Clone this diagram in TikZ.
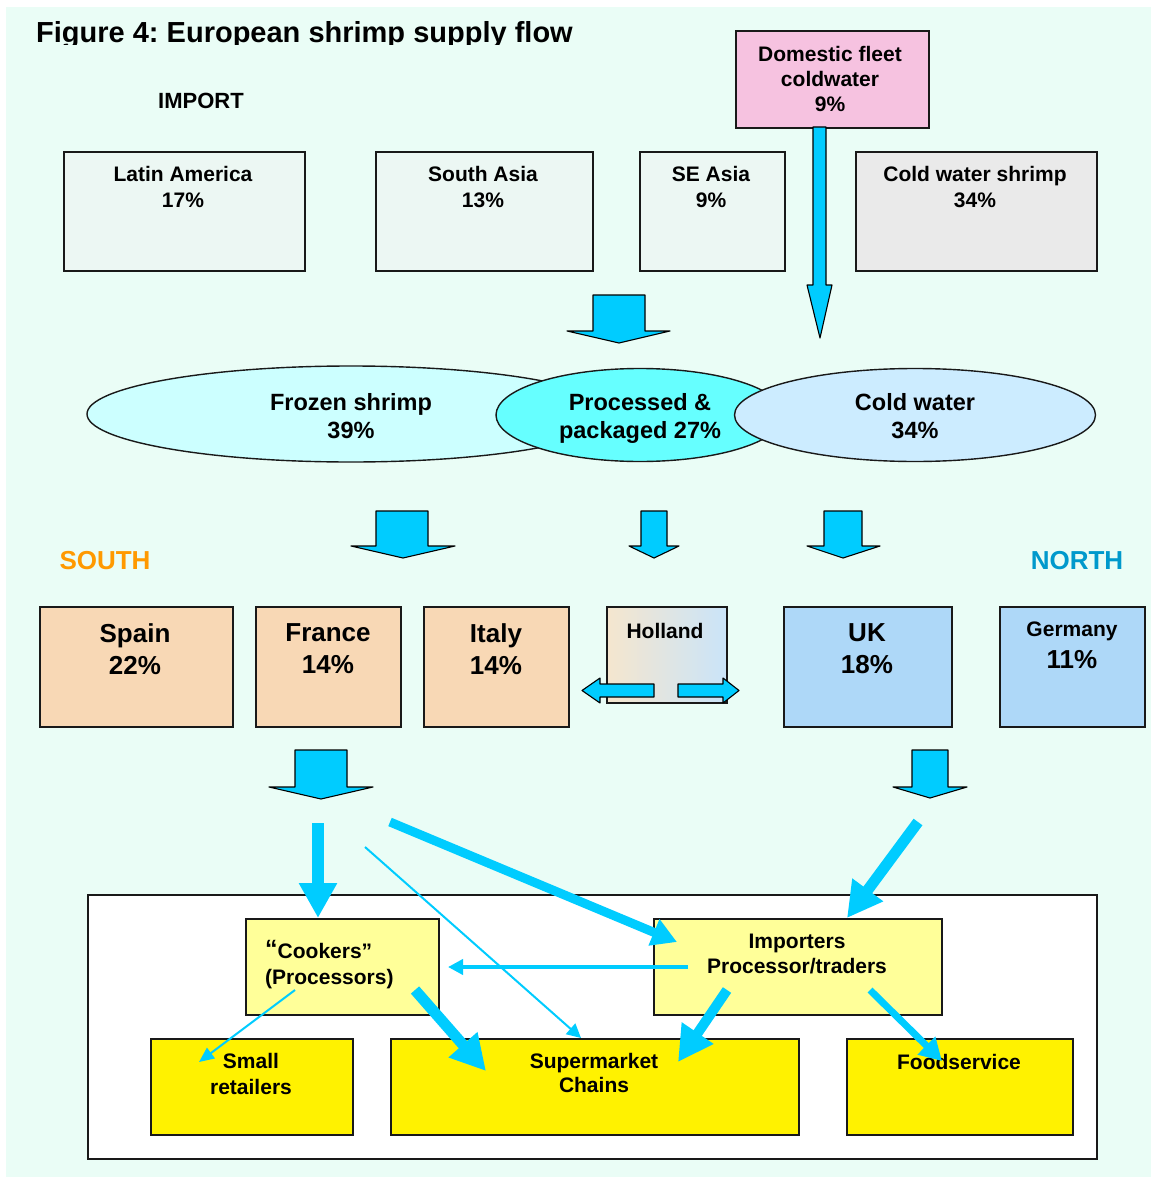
\documentclass[tikz,border=0pt]{standalone}
\usepackage{fontspec}
\setmainfont{Liberation Sans}
\usetikzlibrary{arrows.meta,shapes.geometric}
\frenchspacing
\definecolor{bgmint}{RGB}{234,253,246}
\definecolor{impfill}{RGB}{236,247,243}
\definecolor{greyfill}{RGB}{234,234,234}
\definecolor{pinkfill}{RGB}{246,194,224}
\definecolor{frozenfill}{RGB}{204,255,255}
\definecolor{procfill}{RGB}{102,255,255}
\definecolor{coldfill}{RGB}{204,236,255}
\definecolor{southfill}{RGB}{248,216,181}
\definecolor{northfill}{RGB}{174,216,248}
\definecolor{hollandL}{RGB}{245,230,206}
\definecolor{hollandR}{RGB}{202,228,249}
\definecolor{flow}{RGB}{0,204,255}
\definecolor{southtxt}{RGB}{255,153,0}
\definecolor{northtxt}{RGB}{0,153,204}
\definecolor{lightyellow}{RGB}{255,255,153}
\definecolor{edge}{RGB}{25,25,25}
\begin{document}
\begin{tikzpicture}[x=1pt,y=-1pt,
  box/.style={draw=edge, line width=1.6pt, rectangle, inner sep=0pt, anchor=north west},
  ell/.style={draw=edge, line width=1.4pt, ellipse, inner sep=0pt},
  lbl/.style={font=\fontsize{21}{26}\selectfont\bfseries, align=center, inner sep=0pt, anchor=north},
  biglbl/.style={font=\fontsize{26}{32}\selectfont\bfseries, align=center, inner sep=0pt, anchor=north},
  elllbl/.style={font=\fontsize{23.5}{28}\selectfont\bfseries, align=center, inner sep=0pt, anchor=north},
  blockarrow/.style={fill=flow, draw=black, line width=1.1pt, line join=round},
  flowline/.style={draw=flow, line cap=butt}
]
\useasboundingbox (0,0) rectangle (1151,1177);
\fill[bgmint] (6,7) rectangle (1151,1177);

% title (clipped at bottom as in the reference)
\begin{scope}
  \clip (0,0) rectangle (1151,45);
  \node[anchor=base west, inner sep=0pt, font=\fontsize{29}{32}\selectfont\bfseries] (title) at (36,43) {Figure 4: European shrimp supply flow};
\end{scope}

\node[lbl, font=\fontsize{22}{26}\selectfont\bfseries] (import) at (201,93) {IMPORT};

% import boxes
\node[box, fill=impfill, minimum width=241pt, minimum height=119pt] (la) at (63,151) {};
\node[box, fill=impfill, minimum width=217pt, minimum height=119pt] (sa) at (375,151) {};
\node[box, fill=impfill, minimum width=145pt, minimum height=119pt] (se) at (639,151) {};
\node[box, fill=greyfill, minimum width=241pt, minimum height=119pt] (cws) at (855,151) {};
\node[lbl] (la-t) at (183,166) {Latin America\\17\%};
\node[lbl] (sa-t) at (483,166) {South Asia\\13\%};
\node[lbl] (se-t) at (711,166) {SE Asia\\9\%};
\node[lbl] (cws-t) at (975,166) {Cold water shrimp\\34\%};

% domestic fleet
\node[box, fill=pinkfill, minimum width=193pt, minimum height=97pt] (dom) at (735,30) {};
\node[lbl, font=\fontsize{21}{25}\selectfont\bfseries] (dom-t) at (830,46) {Domestic fleet\\coldwater\\9\%};

% domestic fleet arrow
\filldraw[blockarrow] (813,127) -- (826,127) -- (826,285) -- (832,285) -- (820,338) -- (807,285) -- (813,285) -- cycle;
% top block arrow
\filldraw[blockarrow] (593,295) -- (645,295) -- (645,331) -- (670,331) -- (619,343) -- (567,331) -- (593,331) -- cycle;

% ellipses
\node[ell, fill=frozenfill, minimum width=528pt, minimum height=96pt] (frozen) at (351,414) {};
\node[ell, fill=procfill, minimum width=288pt, minimum height=93pt] (proc) at (640,415) {};
\node[ell, fill=coldfill, minimum width=361pt, minimum height=93pt] (cold) at (915,415) {};
\node[elllbl] (frozen-t) at (351,393) {Frozen shrimp\\39\%};
\node[elllbl] (proc-t) at (640,393) {Processed \&\\packaged 27\%};
\node[elllbl] (cold-t) at (915,393) {Cold water\\34\%};

% middle block arrows
\filldraw[blockarrow] (376,511) -- (428,511) -- (428,546) -- (455,546) -- (403,558) -- (351,546) -- (376,546) -- cycle;
\filldraw[blockarrow] (641,511) -- (667,511) -- (667,546) -- (679,546) -- (654,558) -- (629,546) -- (641,546) -- cycle;
\filldraw[blockarrow] (824,511) -- (862,511) -- (862,546) -- (880,546) -- (843,558) -- (807,546) -- (824,546) -- cycle;

\node[biglbl, text=southtxt] (south) at (105,551) {SOUTH};
\node[biglbl, text=northtxt] (north) at (1077,551) {NORTH};

% countries
\node[box, fill=southfill, minimum width=193pt, minimum height=120pt] (spain) at (39,606) {};
\node[box, fill=southfill, minimum width=145pt, minimum height=120pt] (france) at (255,606) {};
\node[box, fill=southfill, minimum width=145pt, minimum height=120pt] (italy) at (423,606) {};
\node[box, left color=hollandL, right color=hollandR, minimum width=120pt, minimum height=96pt] (holland) at (606,606) {};
\node[box, fill=northfill, minimum width=168pt, minimum height=120pt] (uk) at (783,606) {};
\node[box, fill=northfill, minimum width=145pt, minimum height=120pt] (germany) at (999,606) {};
\node[biglbl] (spain-t) at (135,623) {Spain\\22\%};
\node[biglbl] (france-t) at (328,623) {France\\14\%};
\node[biglbl] (italy-t) at (496,623) {Italy\\14\%};
\node[lbl] (holland-t) at (665,623) {Holland};
\node[biglbl] (uk-t) at (867,623) {UK\\18\%};
\node[lbl] (germany-t) at (1072,622) {Germany};
\node[biglbl] (germany-p) at (1072,650) {11\%};

% holland side arrows
\filldraw[blockarrow] (654,684) -- (600,684) -- (600,678) -- (582,690.5) -- (600,703) -- (600,697) -- (654,697) -- cycle;
\filldraw[blockarrow] (678,684) -- (723,684) -- (723,678) -- (739,690.5) -- (723,703) -- (723,697) -- (678,697) -- cycle;

% lower block arrows
\filldraw[blockarrow] (295,750) -- (347,750) -- (347,787) -- (373,787) -- (321,799) -- (269,787) -- (295,787) -- cycle;
\filldraw[blockarrow] (912,750) -- (948,750) -- (948,787) -- (967,787) -- (930,798) -- (893,787) -- (912,787) -- cycle;

% market frame
\node[box, fill=white, draw=edge, line width=1.8pt, minimum width=1009pt, minimum height=264pt] (market) at (87,894) {};

\node[box, fill=lightyellow, minimum width=193pt, minimum height=96pt] (cook) at (245,918) {};
\node[box, fill=lightyellow, minimum width=288pt, minimum height=96pt] (imp) at (653,918) {};
\node[box, fill=yellow, minimum width=202pt, minimum height=96pt] (small) at (150,1038) {};
\node[box, fill=yellow, minimum width=408pt, minimum height=96pt] (super) at (390,1038) {};
\node[box, fill=yellow, minimum width=226pt, minimum height=96pt] (food) at (846,1038) {};

\node[lbl, align=left, anchor=north west] (cook-t) at (265,940) {{\fontsize{25}{26}\selectfont\raisebox{1pt}{“}}Cookers”\\(Processors)};
\node[lbl, font=\fontsize{21}{25}\selectfont\bfseries] (imp-t) at (797,934) {Importers\\Processor/traders};
\node[lbl] (small-t) at (251,1053) {Small\\retailers};
\node[lbl, font=\fontsize{21}{24}\selectfont\bfseries] (super-t) at (594,1053) {Supermarket\\Chains};
\node[lbl] (food-t) at (959,1054) {Foodservice};

% flow connectors
\coordinate (s1) at (318,823);
\coordinate (s2) at (390,822);
\coordinate (e2) at (677,942);
\coordinate (s3) at (365,847);
\coordinate (e3) at (581,1038);
\coordinate (s4) at (688,967);
\coordinate (e4) at (448,967);
\coordinate (s5) at (295,990);
\coordinate (e5) at (199,1062);
\coordinate (s6) at (415,990);
\coordinate (e6) at (486,1071);
\coordinate (s7) at (727,990);
\coordinate (e7) at (678,1062);
\coordinate (s8) at (870,990);
\coordinate (e8) at (942,1061);
\coordinate (s9) at (918,822);
\coordinate (e9) at (847,918);

\draw[flowline, line width=12pt, -{Triangle[width=36pt,length=35pt]}] (s1) -- (s1 |- cook.north);
\draw[flowline, line width=9pt, -{Triangle[width=27pt,length=25pt]}] (s2) -- (e2);
\draw[flowline, line width=2pt, -{Triangle[width=14pt,length=14pt]}] (s3) -- (e3);
\draw[flowline, line width=4pt, -{Triangle[width=15pt,length=15pt]}] (s4) -- (e4);
\draw[flowline, line width=2pt, -{Triangle[width=13pt,length=15pt]}] (s5) -- (e5);
\draw[flowline, line width=11pt, -{Triangle[width=36pt,length=35pt]}] (s6) -- (e6);
\draw[flowline, line width=10pt, -{Triangle[width=36pt,length=35pt]}] (s7) -- (e7);
\draw[flowline, line width=7pt, -{Triangle[width=24pt,length=22pt]}] (s8) -- (e8);
\draw[flowline, line width=11pt, -{Triangle[width=36pt,length=35pt]}] (s9) -- (e9);
\end{tikzpicture}
\end{document}
